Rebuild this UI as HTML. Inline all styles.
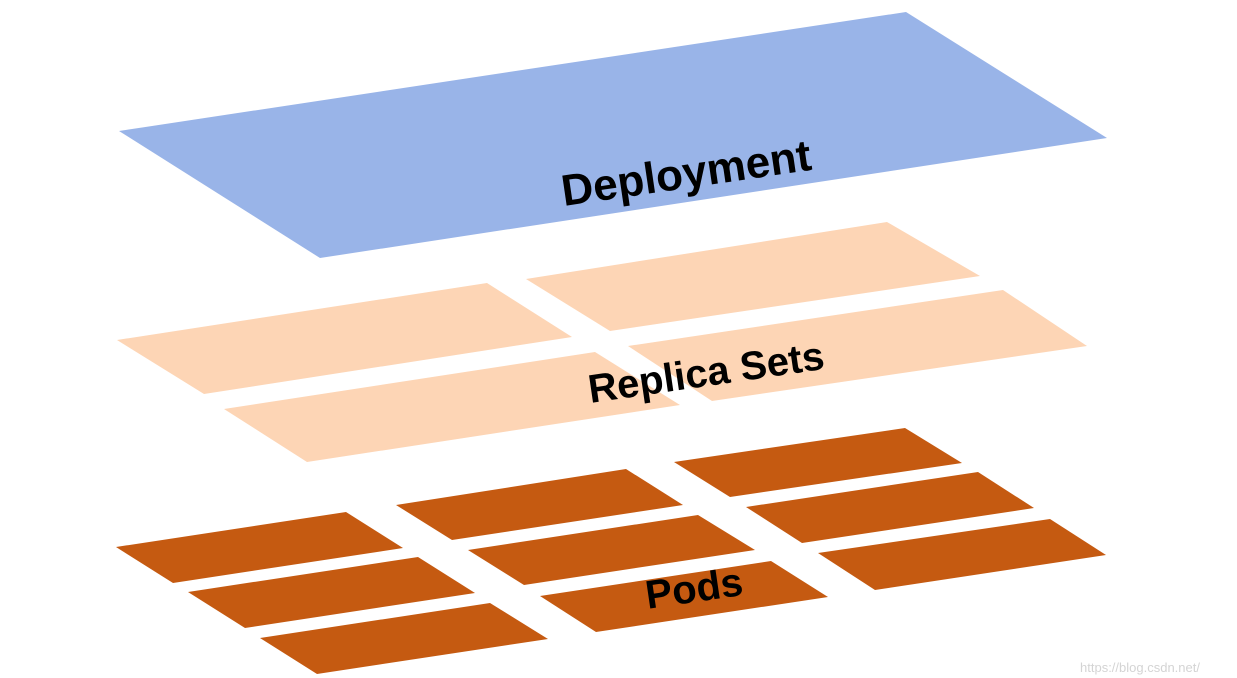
<!DOCTYPE html>
<html><head><meta charset="utf-8"><style>
html,body{margin:0;padding:0;background:#fff;}
svg{display:block}
text{font-family:"Liberation Sans",sans-serif;font-weight:bold;fill:#000;}
</style></head><body>
<svg width="1237" height="678" viewBox="0 0 1237 678" xmlns="http://www.w3.org/2000/svg">
<polygon points="119,131 906,12 1107,138 320,258" fill="#99b4e8"/>
<g fill="#fdd5b5">
<polygon points="526,279 887,222 980,276 610,331"/>
<polygon points="117,340 487,283 572,337 204,394"/>
<polygon points="628,346 1003,290 1087,346 712,401"/>
<polygon points="224,409 595,352 680,405 307,462"/>
</g>
<g fill="#c55a11">
<polygon points="674,462 905,428 962,463 730,497"/>
<polygon points="746,507 978,472 1034,508 802,543"/>
<polygon points="818,553 1050,519 1106,555 875,590"/>
<polygon points="396,505 626,469 683,505 452,540"/>
<polygon points="468,550 698,515 755,550 524,585"/>
<polygon points="540,596 771,561 828,597 596,632"/>
<polygon points="116,547 346,512 403,548 173,583"/>
<polygon points="188,592 418,557 475,593 245,628"/>
<polygon points="260,638 490,603 548,639 317,674"/>
</g>
<text x="686" y="188" font-size="44" text-anchor="middle" transform="rotate(-8.3 686 172)">Deployment</text>
<text x="706" y="386" font-size="40" text-anchor="middle" transform="rotate(-8.3 706 372)">Replica Sets</text>
<text x="694" y="602" font-size="40" text-anchor="middle" transform="rotate(-8.3 694 588)">Pods</text>
<text x="1140" y="672" font-size="13" text-anchor="middle" style="font-weight:normal;fill:#d4d4d4">https://blog.csdn.net/</text>
</svg>
</body></html>
